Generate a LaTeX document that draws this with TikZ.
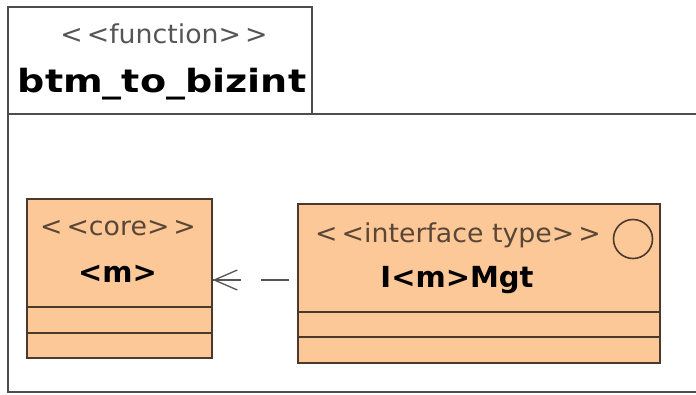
\documentclass[tikz,border=0pt]{standalone}
\usepackage{fontspec}
\setmainfont{DejaVu Sans}
\usepackage{xcolor}
\usetikzlibrary{arrows.meta,positioning}
\definecolor{umlFill}{HTML}{FDC898}
\definecolor{umlEdge}{HTML}{4B3A2C}
\definecolor{umlFrame}{HTML}{4D4D4D}
\definecolor{umlStereo}{HTML}{5A4636}
\definecolor{umlGrey}{HTML}{555555}

\begin{document}
\begin{tikzpicture}[
  x=1pt, y=-1pt,
  pkgframe/.style={draw=umlFrame, line width=1.3pt, inner sep=0pt},
  classbox/.style={draw=umlEdge, line width=1.4pt, fill=umlFill, inner sep=0pt},
  compart/.style={draw=umlEdge, line width=1.4pt},
  stereo/.style={anchor=base, inner sep=0pt, text=umlStereo,
    font=\fontsize{26}{30}\selectfont\addfontfeature{FakeStretch=1.03}},
  classname/.style={anchor=base, inner sep=0pt, text=black,
    font=\fontsize{29}{34}\selectfont\bfseries},
  depend/.style={-{Straight Barb[length=23pt, width=20pt]}, draw=umlGrey, line width=1.3pt,
    dash pattern=on 0pt off 8pt on 28pt off 22pt on 100pt},
  shaft/.style={draw=umlGrey, line width=1.3pt}
]
  \useasboundingbox (0,0) rectangle (696,394);

  % package frame with its tab
  \node[pkgframe, minimum width=702pt, minimum height=278pt] (pkg) at (359,253) {};
  \node[pkgframe, minimum width=304pt, minimum height=107pt] (tab) at (160,60.5) {};
  \node[stereo, text=umlGrey] (tabStereo) at (164,43) {<\kern4pt<function>\kern4pt>};
  \node[anchor=base, inner sep=0pt, text=black,
    font=\fontsize{32}{38}\selectfont\bfseries\addfontfeature{FakeStretch=1.19}] (tabName) at (162,92.5) {btm\_to\_bizint};

  % classes
  \node[classbox, minimum width=185pt, minimum height=159pt] (core) at (119.5,278.5) {};
  \node[classbox, minimum width=362pt, minimum height=159pt] (iface) at (479,283.5) {};
  \foreach \y in {307,333} {
    \draw[compart] (core.west |- 0,\y) -- (core.east |- 0,\y);
  }
  \foreach \y in {312,337} {
    \draw[compart] (iface.west |- 0,\y) -- (iface.east |- 0,\y);
  }
  \node[stereo] (coreStereo) at (118,235) {<\kern4pt<core>\kern4pt>};
  \node[classname] (coreName) at (117.5,282) {<m>};
  \node[stereo] (ifaceStereo) at (458,242) {<\kern4pt<interface type>\kern4pt>};
  \node[classname] (ifaceName) at (457,287) {I<m>Mgt};
  \node[draw=umlEdge, line width=1.6pt, circle, minimum size=39pt, inner sep=0pt] (ifaceIcon) at (633,239) {};

  % dependency
  \draw[depend] (iface.west |- 0,280) -- (core.east |- 0,280);
  \draw[shaft] (core.east |- 0,280) -- ++(28,0);
\end{tikzpicture}
\end{document}
